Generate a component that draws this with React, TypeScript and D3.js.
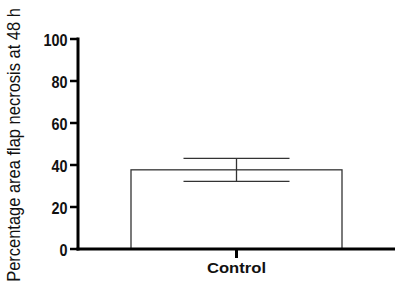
import React from "react";
import * as d3 from "d3";

const categories = ["Control"];
const means = [37.7];
const sems = [5.5];
const yTicks = [0, 20, 40, 60, 80, 100];
const yLabel = "Percentage area flap necrosis at 48 h";

export default function App() {
  const W = 400, H = 290;
  const x0 = 78, x1 = 395, yTop = 39, yBot = 249;
  const y = d3.scaleLinear().domain([0, 100]).range([yBot, yTop]);
  const x = d3.scaleBand().domain(categories).range([x0, x1]).paddingInner(0).paddingOuter(0.2);
  const font = "'Liberation Sans', Arial, Helvetica, sans-serif";
  return (
    <svg width={W} height={H} style={{ position: "absolute", left: 0, top: 0, background: "#fff" }} fontFamily={font}>
      <rect width={W} height={H} fill="#fff" />
      {categories.map((c, i) => {
        const cx = x(c)! + x.bandwidth() / 2;
        const bw = 211;
        const capW = 106;
        return (
          <g key={c}>
            <rect x={cx - bw / 2} y={y(means[i])} width={bw} height={yBot - y(means[i])} fill="#fff" stroke="#333" strokeWidth={1.3} />
            <line x1={cx} x2={cx} y1={y(means[i] + sems[i])} y2={y(means[i] - sems[i])} stroke="#333" strokeWidth={1.3} />
            <line x1={cx - capW / 2} x2={cx + capW / 2} y1={y(means[i] + sems[i])} y2={y(means[i] + sems[i])} stroke="#333" strokeWidth={1.3} />
            <line x1={cx - capW / 2} x2={cx + capW / 2} y1={y(means[i] - sems[i])} y2={y(means[i] - sems[i])} stroke="#333" strokeWidth={1.3} />
            <line x1={cx} x2={cx} y1={yBot} y2={yBot + 9} stroke="#000" strokeWidth={3} />
            <text x={cx} y={272.5} textAnchor="middle" fontSize={15.5} fontWeight="bold" fill="#111" textLength={59} lengthAdjust="spacingAndGlyphs">{c}</text>
          </g>
        );
      })}
      <line x1={x0} x2={x0} y1={yTop - 1.5} y2={yBot + 1.5} stroke="#000" strokeWidth={3} />
      <line x1={x0 - 1.5} x2={x1} y1={yBot} y2={yBot} stroke="#000" strokeWidth={3} />
      {yTicks.map((t) => (
        <g key={t}>
          <line x1={x0 - 8} x2={x0} y1={y(t)} y2={y(t)} stroke="#000" strokeWidth={2.5} />
          <text x={x0 - 10.5} y={y(t) + 6.5} textAnchor="end" fontSize={16.5} fontWeight="bold" fill="#111" textLength={String(t).length * 8} lengthAdjust="spacingAndGlyphs">{t}</text>
        </g>
      ))}
      <text transform={`translate(19.5,145) rotate(-90) scale(1.03,1.09)`} textAnchor="middle" fontSize={16} fill="#111">{yLabel}</text>
    </svg>
  );
}
